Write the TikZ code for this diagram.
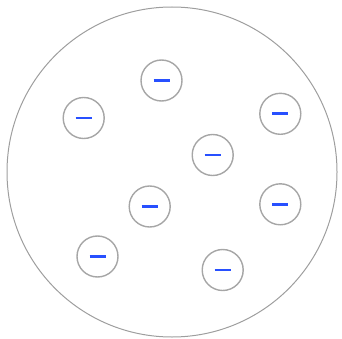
\documentclass[tikz,border=0pt]{standalone}
\begin{document}
\begin{tikzpicture}[x=1pt,y=-1pt,
  outer/.style={draw=black!38,line width=1pt},
  ion/.style={circle,draw=black!35,line width=1.4pt,minimum size=41pt,inner sep=0pt},
  minus/.style={draw={rgb,255:red,40;green,80;blue,255},line width=2.6pt}]
\useasboundingbox (0,0) rectangle (342,339);
\node[outer,circle,minimum size=330pt,inner sep=0pt] (cell) at (172,172) {};
\foreach \n/\x/\y in {a/161.5/80.5, b/83.7/118, c/280.3/113.8, d/212.7/155, e/149.7/206.5, f/280.3/204.3, g/97.5/256.5, h/222.7/270}{
  \node[ion] (\n) at (\x,\y) {};
  \draw[minus] ([xshift=-8pt]\n.center) -- ([xshift=8pt]\n.center);
}
\end{tikzpicture}
\end{document}
